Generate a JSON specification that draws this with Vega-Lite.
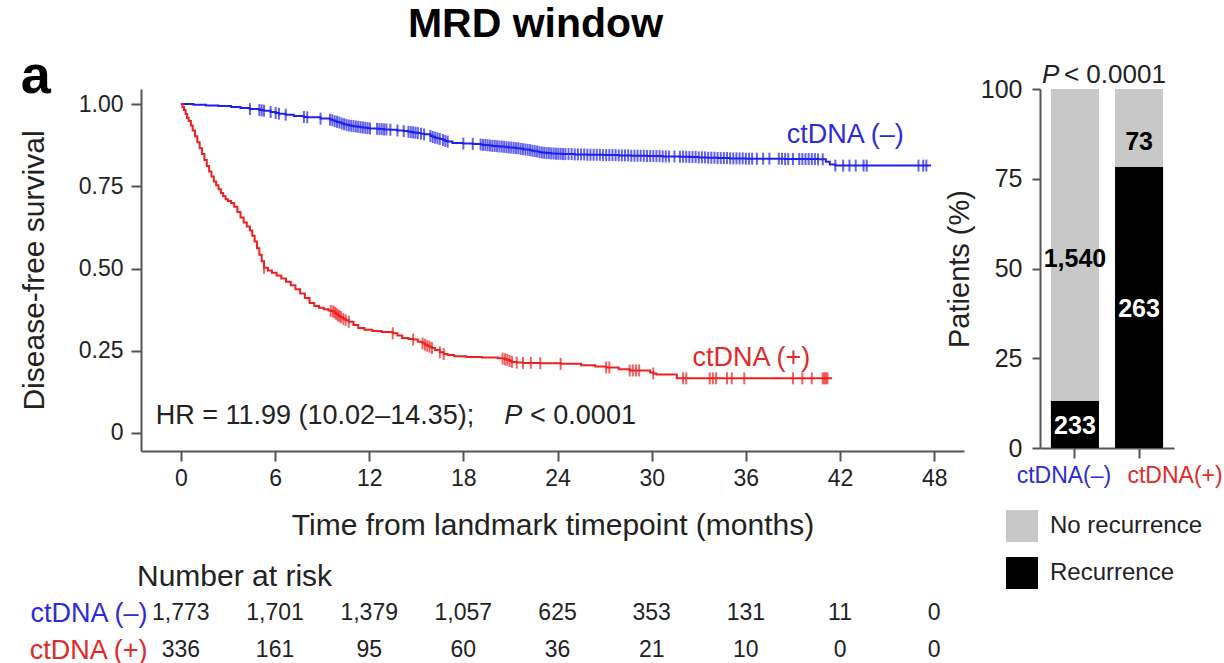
{
  "$schema": "https://vega.github.io/schema/vega-lite/v6.json",
  "padding": {"left": 19, "top": 4, "right": 0, "bottom": 0},
  "background": "white",
  "config": {
    "font": "Liberation Sans",
    "view": {"stroke": null},
    "axis": {
      "grid": false,
      "domainColor": "#555555",
      "domainWidth": 2,
      "tickColor": "#555555",
      "tickWidth": 2,
      "labelColor": "#222222",
      "titleColor": "#222222",
      "titleFontWeight": "normal",
      "labelFont": "Liberation Sans",
      "titleFont": "Liberation Sans"
    },
    "legend": {"labelFont": "Liberation Sans", "labelColor": "#222222"},
    "title": {"font": "Liberation Sans", "color": "#000000"}
  },
  "datasets": {
    "km": [
      {"g":"neg","t":0,"s":1,"c":0},{"g":"neg","t":0.8,"s":0.998,"c":0},{"g":"neg","t":1.6,"s":0.996,"c":0},{"g":"neg","t":2.4,"s":0.994,"c":0},{"g":"neg","t":3.2,"s":0.991,"c":0},{"g":"neg","t":3.8,"s":0.988,"c":0},
      {"g":"neg","t":4.4,"s":0.985,"c":1},{"g":"neg","t":5.0,"s":0.982,"c":1},{"g":"neg","t":5.15,"s":0.981,"c":1},{"g":"neg","t":5.3,"s":0.98,"c":1},{"g":"neg","t":5.72,"s":0.976,"c":1},{"g":"neg","t":6.04,"s":0.973,"c":1},{"g":"neg","t":6.25,"s":0.971,"c":1},{"g":"neg","t":6.68,"s":0.968,"c":1},{"g":"neg","t":7.2,"s":0.964,"c":0},{"g":"neg","t":7.84,"s":0.961,"c":1},{"g":"neg","t":8.05,"s":0.96,"c":1},{"g":"neg","t":8.9,"s":0.956,"c":1},
      {"g":"neg","t":9.5,"s":0.953,"c":1},{"g":"neg","t":9.65,"s":0.951,"c":1},{"g":"neg","t":9.8,"s":0.948,"c":1},{"g":"neg","t":9.95,"s":0.946,"c":1},{"g":"neg","t":10.1,"s":0.944,"c":1},{"g":"neg","t":10.25,"s":0.941,"c":1},{"g":"neg","t":10.4,"s":0.939,"c":1},{"g":"neg","t":10.55,"s":0.937,"c":1},{"g":"neg","t":10.7,"s":0.935,"c":1},{"g":"neg","t":10.85,"s":0.934,"c":1},{"g":"neg","t":11.0,"s":0.933,"c":1},{"g":"neg","t":11.15,"s":0.932,"c":1},{"g":"neg","t":11.3,"s":0.931,"c":1},{"g":"neg","t":11.45,"s":0.93,"c":1},{"g":"neg","t":11.6,"s":0.929,"c":1},{"g":"neg","t":11.75,"s":0.928,"c":1},{"g":"neg","t":11.9,"s":0.927,"c":1},{"g":"neg","t":12.05,"s":0.926,"c":1},
      {"g":"neg","t":12.5,"s":0.925,"c":1},{"g":"neg","t":12.65,"s":0.924,"c":1},{"g":"neg","t":12.8,"s":0.924,"c":1},{"g":"neg","t":12.95,"s":0.923,"c":1},{"g":"neg","t":13.1,"s":0.923,"c":1},{"g":"neg","t":13.35,"s":0.922,"c":1},{"g":"neg","t":13.8,"s":0.92,"c":1},{"g":"neg","t":14.2,"s":0.918,"c":1},
      {"g":"neg","t":14.5,"s":0.916,"c":1},{"g":"neg","t":14.65,"s":0.915,"c":1},{"g":"neg","t":14.8,"s":0.914,"c":1},{"g":"neg","t":14.95,"s":0.913,"c":1},{"g":"neg","t":15.1,"s":0.912,"c":1},{"g":"neg","t":15.3,"s":0.91,"c":1},{"g":"neg","t":15.5,"s":0.908,"c":1},
      {"g":"neg","t":15.9,"s":0.903,"c":1},{"g":"neg","t":16.05,"s":0.9,"c":1},{"g":"neg","t":16.2,"s":0.898,"c":1},{"g":"neg","t":16.35,"s":0.896,"c":1},{"g":"neg","t":16.5,"s":0.894,"c":1},{"g":"neg","t":16.7,"s":0.891,"c":1},{"g":"neg","t":16.85,"s":0.888,"c":1},{"g":"neg","t":17.0,"s":0.886,"c":1},{"g":"neg","t":17.3,"s":0.882,"c":0},{"g":"neg","t":18.0,"s":0.88,"c":1},{"g":"neg","t":18.6,"s":0.879,"c":1},
      {"g":"neg","t":19.1,"s":0.877,"c":1},{"g":"neg","t":19.25,"s":0.876,"c":1},{"g":"neg","t":19.4,"s":0.876,"c":1},{"g":"neg","t":19.55,"s":0.875,"c":1},{"g":"neg","t":19.7,"s":0.874,"c":1},{"g":"neg","t":19.85,"s":0.873,"c":1},{"g":"neg","t":20.0,"s":0.873,"c":1},{"g":"neg","t":20.15,"s":0.872,"c":1},{"g":"neg","t":20.3,"s":0.871,"c":1},{"g":"neg","t":20.45,"s":0.871,"c":1},{"g":"neg","t":20.6,"s":0.87,"c":1},{"g":"neg","t":20.75,"s":0.869,"c":1},{"g":"neg","t":20.9,"s":0.868,"c":1},{"g":"neg","t":21.05,"s":0.868,"c":1},{"g":"neg","t":21.2,"s":0.867,"c":1},{"g":"neg","t":21.35,"s":0.866,"c":1},{"g":"neg","t":21.5,"s":0.866,"c":1},{"g":"neg","t":21.65,"s":0.864,"c":1},{"g":"neg","t":21.8,"s":0.863,"c":1},{"g":"neg","t":21.95,"s":0.862,"c":1},{"g":"neg","t":22.1,"s":0.861,"c":1},{"g":"neg","t":22.25,"s":0.86,"c":1},{"g":"neg","t":22.4,"s":0.858,"c":1},{"g":"neg","t":22.55,"s":0.857,"c":1},{"g":"neg","t":22.7,"s":0.856,"c":1},{"g":"neg","t":22.85,"s":0.854,"c":1},{"g":"neg","t":23.0,"s":0.853,"c":1},{"g":"neg","t":23.15,"s":0.852,"c":1},{"g":"neg","t":23.3,"s":0.851,"c":1},{"g":"neg","t":23.45,"s":0.851,"c":1},{"g":"neg","t":23.6,"s":0.85,"c":1},{"g":"neg","t":23.75,"s":0.85,"c":1},{"g":"neg","t":23.9,"s":0.849,"c":1},{"g":"neg","t":24.05,"s":0.849,"c":1},{"g":"neg","t":24.2,"s":0.849,"c":1},{"g":"neg","t":24.35,"s":0.848,"c":1},{"g":"neg","t":24.5,"s":0.848,"c":1},
      {"g":"neg","t":24.7,"s":0.848,"c":1},{"g":"neg","t":24.9,"s":0.848,"c":1},{"g":"neg","t":25.1,"s":0.847,"c":1},{"g":"neg","t":25.3,"s":0.847,"c":1},{"g":"neg","t":25.5,"s":0.847,"c":1},{"g":"neg","t":25.7,"s":0.847,"c":1},{"g":"neg","t":25.9,"s":0.846,"c":1},{"g":"neg","t":26.1,"s":0.846,"c":1},{"g":"neg","t":26.3,"s":0.846,"c":1},{"g":"neg","t":26.5,"s":0.846,"c":1},{"g":"neg","t":26.7,"s":0.846,"c":1},{"g":"neg","t":26.9,"s":0.845,"c":1},{"g":"neg","t":27.1,"s":0.845,"c":1},{"g":"neg","t":27.3,"s":0.845,"c":1},{"g":"neg","t":27.5,"s":0.845,"c":1},{"g":"neg","t":27.7,"s":0.845,"c":1},{"g":"neg","t":27.9,"s":0.844,"c":1},{"g":"neg","t":28.1,"s":0.844,"c":1},{"g":"neg","t":28.3,"s":0.844,"c":1},{"g":"neg","t":28.5,"s":0.844,"c":1},{"g":"neg","t":28.7,"s":0.843,"c":1},{"g":"neg","t":28.9,"s":0.843,"c":1},{"g":"neg","t":29.1,"s":0.843,"c":1},{"g":"neg","t":29.3,"s":0.843,"c":1},{"g":"neg","t":29.5,"s":0.843,"c":1},{"g":"neg","t":29.7,"s":0.842,"c":1},{"g":"neg","t":29.9,"s":0.842,"c":1},{"g":"neg","t":30.1,"s":0.842,"c":1},{"g":"neg","t":30.3,"s":0.842,"c":1},{"g":"neg","t":30.5,"s":0.842,"c":1},{"g":"neg","t":30.7,"s":0.841,"c":1},{"g":"neg","t":30.9,"s":0.841,"c":1},{"g":"neg","t":31.1,"s":0.841,"c":1},{"g":"neg","t":31.45,"s":0.841,"c":1},
      {"g":"neg","t":31.8,"s":0.84,"c":1},{"g":"neg","t":32.0,"s":0.84,"c":1},{"g":"neg","t":32.2,"s":0.84,"c":1},{"g":"neg","t":32.4,"s":0.839,"c":1},{"g":"neg","t":32.6,"s":0.839,"c":1},{"g":"neg","t":32.8,"s":0.839,"c":1},{"g":"neg","t":33.0,"s":0.838,"c":1},{"g":"neg","t":33.2,"s":0.838,"c":1},{"g":"neg","t":33.4,"s":0.838,"c":1},{"g":"neg","t":33.6,"s":0.837,"c":1},{"g":"neg","t":33.8,"s":0.837,"c":1},{"g":"neg","t":34.0,"s":0.837,"c":1},{"g":"neg","t":34.2,"s":0.836,"c":1},{"g":"neg","t":34.4,"s":0.836,"c":1},{"g":"neg","t":34.6,"s":0.836,"c":1},{"g":"neg","t":34.8,"s":0.836,"c":1},{"g":"neg","t":35.0,"s":0.835,"c":1},{"g":"neg","t":35.2,"s":0.835,"c":1},{"g":"neg","t":35.4,"s":0.835,"c":1},{"g":"neg","t":35.6,"s":0.835,"c":1},{"g":"neg","t":35.8,"s":0.835,"c":1},{"g":"neg","t":36.0,"s":0.834,"c":1},{"g":"neg","t":36.2,"s":0.834,"c":1},{"g":"neg","t":36.4,"s":0.834,"c":1},
      {"g":"neg","t":36.7,"s":0.834,"c":1},{"g":"neg","t":37.1,"s":0.834,"c":1},{"g":"neg","t":37.5,"s":0.834,"c":1},{"g":"neg","t":38.1,"s":0.834,"c":1},{"g":"neg","t":38.3,"s":0.834,"c":1},{"g":"neg","t":38.5,"s":0.833,"c":1},{"g":"neg","t":38.7,"s":0.833,"c":1},{"g":"neg","t":39.0,"s":0.833,"c":1},{"g":"neg","t":39.4,"s":0.833,"c":1},{"g":"neg","t":39.6,"s":0.833,"c":1},{"g":"neg","t":39.8,"s":0.833,"c":1},{"g":"neg","t":40.0,"s":0.833,"c":1},{"g":"neg","t":40.2,"s":0.833,"c":1},{"g":"neg","t":40.4,"s":0.833,"c":1},{"g":"neg","t":40.6,"s":0.832,"c":1},{"g":"neg","t":40.9,"s":0.832,"c":1},
      {"g":"neg","t":41.1,"s":0.825,"c":0},{"g":"neg","t":41.35,"s":0.816,"c":0},{"g":"neg","t":41.7,"s":0.813,"c":1},{"g":"neg","t":42.2,"s":0.813,"c":1},{"g":"neg","t":42.6,"s":0.813,"c":1},{"g":"neg","t":43.0,"s":0.813,"c":1},{"g":"neg","t":43.5,"s":0.813,"c":1},{"g":"neg","t":43.7,"s":0.813,"c":1},{"g":"neg","t":47.0,"s":0.813,"c":1},{"g":"neg","t":47.3,"s":0.813,"c":1},{"g":"neg","t":47.5,"s":0.813,"c":1},{"g":"neg","t":47.8,"s":0.813,"c":0},

      {"g":"pos","t":0,"s":1,"c":0},{"g":"pos","t":0.1,"s":0.991,"c":0},{"g":"pos","t":0.2,"s":0.982,"c":0},{"g":"pos","t":0.3,"s":0.97,"c":0},{"g":"pos","t":0.4,"s":0.958,"c":0},{"g":"pos","t":0.5,"s":0.949,"c":0},{"g":"pos","t":0.64,"s":0.935,"c":0},{"g":"pos","t":0.75,"s":0.92,"c":0},{"g":"pos","t":0.9,"s":0.902,"c":0},{"g":"pos","t":1.05,"s":0.884,"c":0},{"g":"pos","t":1.2,"s":0.866,"c":0},{"g":"pos","t":1.35,"s":0.848,"c":0},{"g":"pos","t":1.5,"s":0.83,"c":0},{"g":"pos","t":1.65,"s":0.812,"c":0},{"g":"pos","t":1.8,"s":0.795,"c":0},{"g":"pos","t":1.95,"s":0.78,"c":0},{"g":"pos","t":2.1,"s":0.765,"c":0},{"g":"pos","t":2.25,"s":0.753,"c":0},{"g":"pos","t":2.4,"s":0.741,"c":0},{"g":"pos","t":2.55,"s":0.73,"c":0},{"g":"pos","t":2.7,"s":0.72,"c":0},{"g":"pos","t":2.85,"s":0.711,"c":0},{"g":"pos","t":3.0,"s":0.705,"c":0},{"g":"pos","t":3.2,"s":0.699,"c":0},{"g":"pos","t":3.4,"s":0.688,"c":0},{"g":"pos","t":3.6,"s":0.672,"c":0},{"g":"pos","t":3.8,"s":0.655,"c":0},{"g":"pos","t":4.0,"s":0.64,"c":0},{"g":"pos","t":4.2,"s":0.628,"c":0},{"g":"pos","t":4.4,"s":0.616,"c":0},{"g":"pos","t":4.55,"s":0.6,"c":0},{"g":"pos","t":4.7,"s":0.582,"c":0},{"g":"pos","t":4.85,"s":0.562,"c":0},{"g":"pos","t":5.0,"s":0.542,"c":0},{"g":"pos","t":5.15,"s":0.522,"c":0},{"g":"pos","t":5.3,"s":0.502,"c":1},
      {"g":"pos","t":5.55,"s":0.494,"c":0},{"g":"pos","t":5.8,"s":0.487,"c":0},{"g":"pos","t":6.1,"s":0.479,"c":0},{"g":"pos","t":6.4,"s":0.47,"c":0},{"g":"pos","t":6.7,"s":0.46,"c":0},{"g":"pos","t":7.0,"s":0.449,"c":0},{"g":"pos","t":7.3,"s":0.437,"c":0},{"g":"pos","t":7.6,"s":0.424,"c":0},{"g":"pos","t":7.9,"s":0.41,"c":0},{"g":"pos","t":8.2,"s":0.395,"c":0},{"g":"pos","t":8.5,"s":0.386,"c":0},{"g":"pos","t":8.8,"s":0.381,"c":0},{"g":"pos","t":9.1,"s":0.376,"c":0},{"g":"pos","t":9.4,"s":0.372,"c":0},
      {"g":"pos","t":9.55,"s":0.371,"c":1},{"g":"pos","t":9.7,"s":0.369,"c":1},{"g":"pos","t":9.8,"s":0.366,"c":1},{"g":"pos","t":9.9,"s":0.362,"c":1},{"g":"pos","t":10.0,"s":0.358,"c":1},{"g":"pos","t":10.1,"s":0.355,"c":1},{"g":"pos","t":10.2,"s":0.352,"c":1},{"g":"pos","t":10.35,"s":0.347,"c":1},{"g":"pos","t":10.5,"s":0.343,"c":1},{"g":"pos","t":10.7,"s":0.338,"c":1},
      {"g":"pos","t":11.0,"s":0.328,"c":0},{"g":"pos","t":11.3,"s":0.319,"c":0},{"g":"pos","t":11.7,"s":0.314,"c":0},{"g":"pos","t":12.2,"s":0.31,"c":0},{"g":"pos","t":12.8,"s":0.307,"c":0},{"g":"pos","t":13.5,"s":0.303,"c":1},{"g":"pos","t":13.8,"s":0.296,"c":0},{"g":"pos","t":14.1,"s":0.289,"c":0},{"g":"pos","t":14.5,"s":0.286,"c":0},{"g":"pos","t":14.8,"s":0.284,"c":1},{"g":"pos","t":15.1,"s":0.277,"c":0},{"g":"pos","t":15.4,"s":0.272,"c":1},{"g":"pos","t":15.55,"s":0.268,"c":1},{"g":"pos","t":15.7,"s":0.265,"c":1},{"g":"pos","t":15.85,"s":0.262,"c":1},{"g":"pos","t":16.0,"s":0.258,"c":1},{"g":"pos","t":16.2,"s":0.252,"c":0},{"g":"pos","t":16.5,"s":0.245,"c":1},{"g":"pos","t":16.75,"s":0.24,"c":1},{"g":"pos","t":17.0,"s":0.237,"c":0},{"g":"pos","t":17.4,"s":0.233,"c":0},{"g":"pos","t":18.2,"s":0.231,"c":0},{"g":"pos","t":19.2,"s":0.229,"c":0},{"g":"pos","t":20.2,"s":0.227,"c":0},
      {"g":"pos","t":20.5,"s":0.226,"c":1},{"g":"pos","t":20.65,"s":0.224,"c":1},{"g":"pos","t":20.8,"s":0.222,"c":1},{"g":"pos","t":20.95,"s":0.219,"c":1},{"g":"pos","t":21.1,"s":0.216,"c":1},{"g":"pos","t":21.4,"s":0.214,"c":1},{"g":"pos","t":21.8,"s":0.213,"c":1},{"g":"pos","t":22.3,"s":0.213,"c":1},{"g":"pos","t":22.9,"s":0.212,"c":1},{"g":"pos","t":24.2,"s":0.21,"c":1},{"g":"pos","t":25.5,"s":0.206,"c":0},{"g":"pos","t":26.4,"s":0.202,"c":0},{"g":"pos","t":27.1,"s":0.199,"c":1},{"g":"pos","t":27.3,"s":0.199,"c":1},{"g":"pos","t":27.9,"s":0.194,"c":0},{"g":"pos","t":28.6,"s":0.19,"c":1},{"g":"pos","t":28.8,"s":0.19,"c":1},{"g":"pos","t":29.0,"s":0.19,"c":1},{"g":"pos","t":29.2,"s":0.19,"c":1},{"g":"pos","t":29.9,"s":0.184,"c":0},{"g":"pos","t":30.1,"s":0.181,"c":1},{"g":"pos","t":30.3,"s":0.178,"c":0},{"g":"pos","t":31.6,"s":0.166,"c":0},{"g":"pos","t":32.0,"s":0.166,"c":1},{"g":"pos","t":32.2,"s":0.166,"c":1},{"g":"pos","t":33.7,"s":0.166,"c":1},{"g":"pos","t":33.9,"s":0.166,"c":1},{"g":"pos","t":34.1,"s":0.166,"c":1},{"g":"pos","t":34.8,"s":0.166,"c":1},{"g":"pos","t":35.1,"s":0.166,"c":1},{"g":"pos","t":35.9,"s":0.166,"c":1},{"g":"pos","t":39.0,"s":0.166,"c":1},{"g":"pos","t":39.6,"s":0.166,"c":1},{"g":"pos","t":40.2,"s":0.166,"c":1},{"g":"pos","t":40.9,"s":0.166,"c":1},{"g":"pos","t":41.0,"s":0.166,"c":1},{"g":"pos","t":41.1,"s":0.166,"c":1},{"g":"pos","t":41.2,"s":0.166,"c":1},{"g":"pos","t":41.5,"s":0.166,"c":0}
    ],
    "risk": [
      {"g":"ctDNA (–)","t":0,"n":1773},{"g":"ctDNA (–)","t":6,"n":1701},{"g":"ctDNA (–)","t":12,"n":1379},{"g":"ctDNA (–)","t":18,"n":1057},{"g":"ctDNA (–)","t":24,"n":625},{"g":"ctDNA (–)","t":30,"n":353},{"g":"ctDNA (–)","t":36,"n":131},{"g":"ctDNA (–)","t":42,"n":11},{"g":"ctDNA (–)","t":48,"n":0},
      {"g":"ctDNA (+)","t":0,"n":336},{"g":"ctDNA (+)","t":6,"n":161},{"g":"ctDNA (+)","t":12,"n":95},{"g":"ctDNA (+)","t":18,"n":60},{"g":"ctDNA (+)","t":24,"n":36},{"g":"ctDNA (+)","t":30,"n":21},{"g":"ctDNA (+)","t":36,"n":10},{"g":"ctDNA (+)","t":42,"n":0},{"g":"ctDNA (+)","t":48,"n":0}
    ],
    "bars": [
      {"grp":"ctDNA(–)","outcome":"Recurrence","n":233},
      {"grp":"ctDNA(–)","outcome":"No recurrence","n":1540},
      {"grp":"ctDNA(+)","outcome":"Recurrence","n":263},
      {"grp":"ctDNA(+)","outcome":"No recurrence","n":73}
    ]
  },
  "bounds": "flush",
  "align": "each",
  "columns": 2,
  "spacing": {"row": 162, "column": 76},
  "resolve": {"scale": {"x": "independent", "y": "independent", "color": "independent"}},
  "concat": [
    {
      "width": 823,
      "height": 362,
      "title": {"text": "MRD window", "fontSize": 41, "fontWeight": "bold", "anchor": "middle", "frame": "group", "dx": -17, "offset": 4},
      "layer": [
        {
          "data": {"name": "km"},
          "mark": {"type": "line", "interpolate": "step-after", "strokeWidth": 2},
          "encoding": {
            "x": {
              "field": "t", "type": "quantitative",
              "scale": {"domain": [-2.54, 49.9], "nice": false, "zero": false},
              "axis": {"values": [0, 6, 12, 18, 24, 30, 36, 42, 48], "title": "Time from landmark timepoint (months)", "titleFontSize": 30, "titlePadding": 20, "labelFontSize": 23, "labelPadding": 6, "tickSize": 10}
            },
            "y": {
              "field": "s", "type": "quantitative",
              "scale": {"domain": [-0.055, 1.046], "nice": false, "zero": false},
              "axis": {"values": [0, 0.25, 0.5, 0.75, 1], "labelExpr": "datum.value === 0 ? '0' : format(datum.value, '.2f')", "title": "Disease-free survival", "titleFontSize": 30, "titlePadding": 29, "labelFontSize": 23, "labelPadding": 8, "tickSize": 10}
            },
            "color": {"field": "g", "type": "nominal", "scale": {"domain": ["neg", "pos"], "range": ["#2020ee", "#ee2020"]}, "legend": null}
          }
        },
        {
          "data": {"name": "km"},
          "transform": [{"filter": "datum.c === 1"}],
          "mark": {"type": "tick", "orient": "vertical", "size": 12, "thickness": 2},
          "encoding": {
            "x": {"field": "t", "type": "quantitative"},
            "y": {"field": "s", "type": "quantitative"},
            "color": {"field": "g", "type": "nominal"}
          }
        },
        {
          "data": {"values": [{}]},
          "mark": {"type": "text", "align": "left", "baseline": "alphabetic", "fontSize": 27, "color": "#222222"},
          "encoding": {"x": {"datum": -1.6}, "y": {"datum": 0.027}, "text": {"value": "HR = 11.99 (10.02–14.35);"}}
        },
        {
          "data": {"values": [{}]},
          "mark": {"type": "text", "align": "left", "baseline": "alphabetic", "fontSize": 27, "fontStyle": "italic", "color": "#222222"},
          "encoding": {"x": {"datum": 20.6}, "y": {"datum": 0.027}, "text": {"value": "P"}}
        },
        {
          "data": {"values": [{}]},
          "mark": {"type": "text", "align": "left", "baseline": "alphabetic", "fontSize": 27, "color": "#222222"},
          "encoding": {"x": {"datum": 22.25}, "y": {"datum": 0.027}, "text": {"value": "< 0.0001"}}
        },
        {
          "data": {"values": [{}]},
          "mark": {"type": "text", "align": "left", "baseline": "alphabetic", "fontSize": 27, "color": "#2b2bdc"},
          "encoding": {"x": {"datum": 38.6}, "y": {"datum": 0.881}, "text": {"value": "ctDNA (–)"}}
        },
        {
          "data": {"values": [{}]},
          "mark": {"type": "text", "align": "left", "baseline": "alphabetic", "fontSize": 27, "color": "#e02a2a"},
          "encoding": {"x": {"datum": 32.6}, "y": {"datum": 0.204}, "text": {"value": "ctDNA (+)"}}
        },
        {
          "data": {"values": [{}]},
          "mark": {"type": "text", "align": "left", "baseline": "alphabetic", "fontSize": 54, "fontWeight": "bold", "color": "#000000"},
          "encoding": {"x": {"datum": -10.2}, "y": {"datum": 1.033}, "text": {"value": "a"}}
        }
      ]
    },
    {
      "width": 134,
      "height": 359,
      "layer": [
        {
          "data": {"name": "bars"},
          "transform": [
            {"joinaggregate": [{"op": "sum", "field": "n", "as": "total"}], "groupby": ["grp"]},
            {"calculate": "100 * datum.n / datum.total", "as": "pct"},
            {"calculate": "datum.outcome === 'Recurrence' ? 0 : 1", "as": "ord"},
            {"stack": "pct", "groupby": ["grp"], "sort": [{"field": "ord", "order": "ascending"}], "as": ["y0", "y1"]}
          ],
          "mark": {"type": "bar"},
          "encoding": {
            "x": {
              "field": "grp", "type": "nominal",
              "scale": {"type": "band", "domain": ["ctDNA(–)", "ctDNA(+)"], "paddingInner": 0.25, "paddingOuter": 0.17},
              "axis": {"title": null, "labelAngle": 0, "tickSize": 10, "labelFontSize": 23, "labelPadding": 6,
                "labelColor": {"condition": {"test": "datum.value === 'ctDNA(+)'", "value": "#e02a2a"}, "value": "#2b2bdc"},
                "labelOffset": {"condition": {"test": "datum.value === 'ctDNA(+)'", "value": 36}, "value": -11}}
            },
            "y": {
              "field": "y0", "type": "quantitative",
              "scale": {"domain": [0, 100], "nice": false},
              "axis": {"values": [0, 25, 50, 75, 100], "title": "Patients (%)", "titleFontSize": 29, "titlePadding": 6, "labelFontSize": 25, "labelPadding": 10, "tickSize": 8}
            },
            "y2": {"field": "y1"},
            "color": {
              "field": "outcome", "type": "nominal",
              "scale": {"domain": ["No recurrence", "Recurrence"], "range": ["#c8c8c8", "#000000"]},
              "legend": {"orient": "none", "legendX": -34, "legendY": 421, "title": null, "symbolType": "square", "symbolSize": 1024, "symbolStrokeWidth": 0, "labelFontSize": 24, "labelOffset": 12, "rowPadding": 15}
            }
          }
        },
        {
          "data": {"name": "bars"},
          "transform": [
            {"joinaggregate": [{"op": "sum", "field": "n", "as": "total"}], "groupby": ["grp"]},
            {"calculate": "100 * datum.n / datum.total", "as": "pct"},
            {"calculate": "datum.outcome === 'Recurrence' ? 0 : 1", "as": "ord"},
            {"stack": "pct", "groupby": ["grp"], "sort": [{"field": "ord", "order": "ascending"}], "as": ["y0", "y1"]},
            {"calculate": "(datum.y0 + datum.y1) / 2", "as": "ymid"},
            {"filter": "datum.outcome === 'Recurrence'"}
          ],
          "mark": {"type": "text", "fontSize": 25, "fontWeight": "bold", "baseline": "middle", "color": "#ffffff", "dy": 2},
          "encoding": {
            "x": {"field": "grp", "type": "nominal"},
            "y": {"field": "ymid", "type": "quantitative"},
            "text": {"field": "n", "type": "quantitative", "format": ","}
          }
        },
        {
          "data": {"name": "bars"},
          "transform": [
            {"joinaggregate": [{"op": "sum", "field": "n", "as": "total"}], "groupby": ["grp"]},
            {"calculate": "100 * datum.n / datum.total", "as": "pct"},
            {"calculate": "datum.outcome === 'Recurrence' ? 0 : 1", "as": "ord"},
            {"stack": "pct", "groupby": ["grp"], "sort": [{"field": "ord", "order": "ascending"}], "as": ["y0", "y1"]},
            {"calculate": "(datum.y0 + datum.y1) / 2", "as": "ymid"},
            {"filter": "datum.outcome === 'No recurrence'"}
          ],
          "mark": {"type": "text", "fontSize": 25, "fontWeight": "bold", "baseline": "middle", "color": "#000000", "dy": 14},
          "encoding": {
            "x": {"field": "grp", "type": "nominal"},
            "y": {"field": "ymid", "type": "quantitative"},
            "text": {"field": "n", "type": "quantitative", "format": ","}
          }
        },
        {
          "data": {"values": [{}]},
          "mark": {"type": "text", "align": "left", "baseline": "alphabetic", "fontSize": 26, "fontStyle": "italic", "color": "#222222", "dx": -33},
          "encoding": {"x": {"datum": "ctDNA(–)"}, "y": {"datum": 101.7}, "text": {"value": "P"}}
        },
        {
          "data": {"values": [{}]},
          "mark": {"type": "text", "align": "left", "baseline": "alphabetic", "fontSize": 26, "color": "#222222", "dx": -11},
          "encoding": {"x": {"datum": "ctDNA(–)"}, "y": {"datum": 101.7}, "text": {"value": "< 0.0001"}}
        }
      ]
    },
    {
      "width": 823,
      "height": 37,
      "data": {"name": "risk"},
      "title": {"text": "Number at risk", "anchor": "start", "frame": "group", "dx": -4, "fontSize": 30, "fontWeight": "normal", "color": "#222222", "offset": 7},
      "mark": {"type": "text", "fontSize": 23, "color": "#222222"},
      "encoding": {
        "x": {"field": "t", "type": "quantitative", "scale": {"domain": [-2.54, 49.9], "nice": false, "zero": false}, "axis": null},
        "y": {
          "field": "g", "type": "nominal",
          "scale": {"type": "point", "padding": 0, "domain": ["ctDNA (–)", "ctDNA (+)"]},
          "axis": {"title": null, "domain": false, "ticks": false, "labelFontSize": 27, "labelPadding": -6, "labelColor": {"condition": {"test": "datum.value === 'ctDNA (+)'", "value": "#e02a2a"}, "value": "#2b2bdc"}}
        },
        "text": {"field": "n", "type": "quantitative", "format": ","}
      }
    }
  ]
}
